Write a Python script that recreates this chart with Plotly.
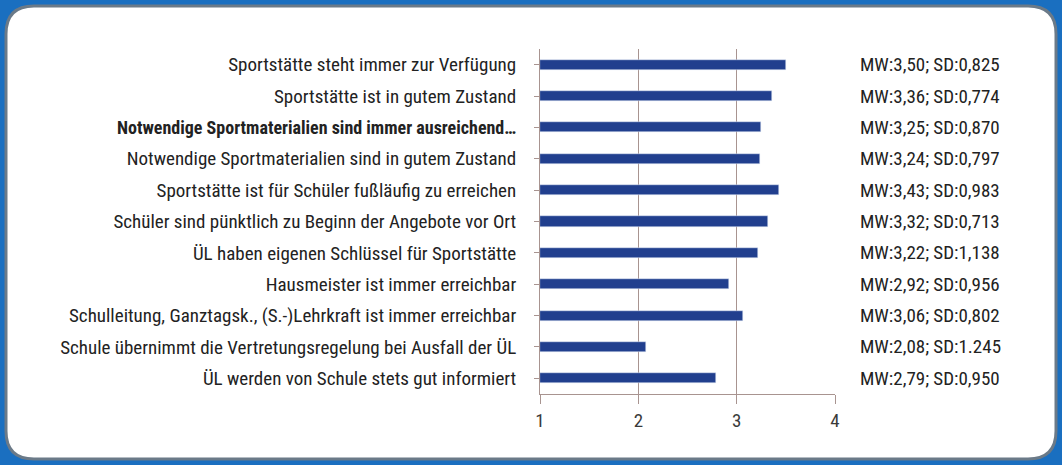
import plotly.graph_objects as go

categories = [
    "Sportstätte steht immer zur Verfügung",
    "Sportstätte ist in gutem Zustand",
    "<b><span style='font-size:18px'>Notwendige Sportmaterialien sind immer ausreichend…</span></b>",
    "Notwendige Sportmaterialien sind in gutem Zustand",
    "Sportstätte ist für Schüler fußläufig zu erreichen",
    "Schüler sind pünktlich zu Beginn der Angebote vor Ort",
    "ÜL haben eigenen Schlüssel für Sportstätte",
    "Hausmeister ist immer erreichbar",
    "Schulleitung, Ganztagsk., (S.-)Lehrkraft ist immer erreichbar",
    "Schule übernimmt die Vertretungsregelung bei Ausfall der ÜL",
    "ÜL werden von Schule stets gut informiert",
]
mw = [3.50, 3.36, 3.25, 3.24, 3.43, 3.32, 3.22, 2.92, 3.06, 2.08, 2.79]
sd = ["0,825", "0,774", "0,870", "0,797", "0,983", "0,713", "1,138", "0,956", "0,802", "1.245", "0,950"]
mw_text = ["3,50", "3,36", "3,25", "3,24", "3,43", "3,32", "3,22", "2,92", "3,06", "2,08", "2,79"]
x_ticks = [1, 2, 3, 4]

FONT = "Liberation Sans Narrow, Roboto Condensed, Arial Narrow, sans-serif"
W, H = 1062, 465
L, R, T, B = 540, 227, 49, 71
pw, ph = W - L - R, H - T - B

def px(x):
    return (x - L) / pw

def py(y):
    return 1 - (y - T) / ph

fig = go.Figure()
fig.add_trace(go.Bar(
    y=list(range(len(categories))), x=[v - 1 for v in mw], base=1,
    orientation="h", marker_color="#213f8e", width=0.32,
    hoverinfo="skip",
))

for i, (m, s) in enumerate(zip(mw_text, sd)):
    fig.add_annotation(
        x=px(930), xref="paper", y=i, yref="y",
        text=f"MW:{m}; SD:{s}", showarrow=False, xanchor="center",
        font=dict(family=FONT, size=19, color="#222222"),
    )

# rounded white panel
x0, y0, x1, y1, r = px(6), py(6), px(1056), py(459), 28
rx, ry = r / pw, r / ph
path = (f"M {x0+rx} {y0} L {x1-rx} {y0} Q {x1} {y0} {x1} {y0-ry} "
        f"L {x1} {y1+ry} Q {x1} {y1} {x1-rx} {y1} L {x0+rx} {y1} "
        f"Q {x0} {y1} {x0} {y1+ry} L {x0} {y0-ry} Q {x0} {y0} {x0+rx} {y0} Z")
fig.add_shape(type="path", path=path, xref="paper", yref="paper",
              fillcolor="white", line=dict(color="#6b7a88", width=3), layer="below")

fig.update_layout(
    width=W, height=H,
    margin=dict(l=L, r=R, t=T, b=B, pad=0),
    paper_bgcolor="#1a6fc0", plot_bgcolor="rgba(0,0,0,0)",
    showlegend=False, bargap=0,
    font=dict(family=FONT, size=19, color="#222222"),
)
fig.update_xaxes(
    range=[1, 4], tickvals=x_ticks, ticktext=[str(t) for t in x_ticks],
    showgrid=True, gridcolor="#a89490", gridwidth=1,
    showline=True, linecolor="#a89490", linewidth=1,
    ticks="outside", ticklen=9, tickcolor="#a89490",
    tickfont=dict(family=FONT, size=19, color="#3a3a3a"), zeroline=False,
)
fig.update_yaxes(
    range=[len(categories) - 0.5, -0.5],
    tickvals=list(range(len(categories))), ticktext=categories,
    showgrid=False, showline=True, linecolor="#a89490", linewidth=1,
    ticks="outside", ticklen=5, tickcolor="#a89490", tickson="boundaries",
    ticklabelstandoff=14,
    tickfont=dict(family=FONT, size=19, color="#222222"), zeroline=False,
)
fig.write_html(
    "out.html",
    config={"displayModeBar": False},
    post_script="document.body.style.margin='0';document.body.style.overflow='hidden';",
)
